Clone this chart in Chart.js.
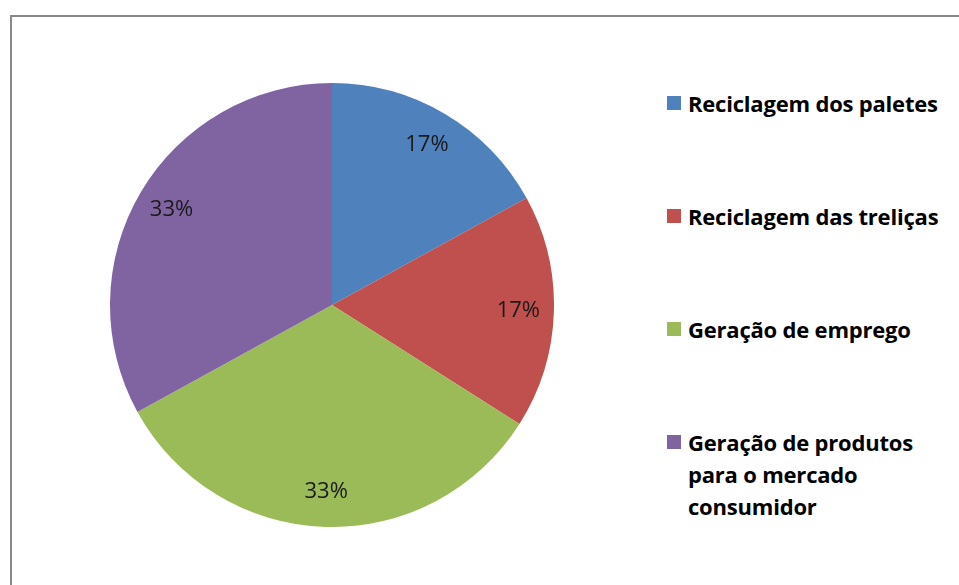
<!DOCTYPE html>
<html lang="pt">
<head>
<meta charset="utf-8">
<title>Benefícios</title>
<script src="https://cdn.jsdelivr.net/npm/chart.js@4.4.1/dist/chart.umd.min.js"></script>
<style>
  html, body { margin: 0; padding: 0; background: #fff; }
  #wrap { position: relative; width: 959px; height: 585px; overflow: hidden; background: #fff; }
  #frame { position: absolute; left: 10px; top: 15px; width: 1200px; height: 1000px; border: 2px solid #898989; box-sizing: border-box; }
  #pieBox { position: absolute; left: 110px; top: 83px; width: 444px; height: 444px; }
  #legend { position: absolute; left: 0; top: 0; }
  .item { position: absolute; left: 667px; font-family: "Open Sans", sans-serif; font-weight: bold; font-size: 22px; line-height: 32px; color: #000; white-space: nowrap; }
  .item .sw { position: absolute; left: 0; top: 9px; width: 14px; height: 14px; }
  .item .txt { position: absolute; left: 21px; top: 0; letter-spacing: -0.2px; }
</style>
</head>
<body>
<div id="wrap">
  <div id="frame"></div>
  <div id="pieBox"><canvas id="pieChart" width="444" height="444"></canvas></div>
  <div id="legend"></div>
</div>
<script>
const labels = [
  'Reciclagem dos paletes',
  'Reciclagem das treliças',
  'Geração de emprego',
  ['Geração de produtos', 'para o mercado', 'consumidor']
];
const values = [17, 17, 33, 33];
const colors = ['#4F81BD', '#C0504D', '#9BBB59', '#8064A2'];

// percent text inside each slice
const sliceLabels = {
  id: 'sliceLabels',
  afterDatasetsDraw(chart) {
    const ctx = chart.ctx;
    const meta = chart.getDatasetMeta(0);
    const total = values.reduce((a, b) => a + b, 0);
    ctx.save();
    ctx.font = '22px "Open Sans", sans-serif';
    ctx.fillStyle = '#1a1a1a';
    ctx.textAlign = 'center';
    ctx.textBaseline = 'middle';
    meta.data.forEach((arc, i) => {
      const p = arc.getProps(['x', 'y', 'startAngle', 'endAngle', 'outerRadius'], true);
      const mid = (p.startAngle + p.endAngle) / 2;
      const r = p.outerRadius * 0.84;
      const pct = Math.round(values[i] / total * 100) + '%';
      ctx.fillText(pct, p.x + Math.cos(mid) * r, p.y + Math.sin(mid) * r);
    });
    ctx.restore();
  }
};

const chart = new Chart(document.getElementById('pieChart'), {
  type: 'pie',
  data: {
    labels: labels,
    datasets: [{
      data: values,
      backgroundColor: colors,
      borderWidth: 0,
      hoverOffset: 0
    }]
  },
  options: {
    responsive: false,
    animation: false,
    events: [],
    layout: { padding: 0 },
    plugins: {
      legend: { display: false },
      tooltip: { enabled: false }
    }
  },
  plugins: [sliceLabels]
});

// legend on the right, one block per slice
const legendEl = document.getElementById('legend');
chart.data.labels.forEach((lab, i) => {
  const item = document.createElement('div');
  item.className = 'item';
  item.style.top = (87 + i * 113) + 'px';
  const lines = Array.isArray(lab) ? lab : [lab];
  item.innerHTML = '<span class="sw" style="background:' + colors[i] + '"></span>' +
    '<span class="txt">' + lines.join('<br>') + '</span>';
  legendEl.appendChild(item);
});
</script>
</body>
</html>
